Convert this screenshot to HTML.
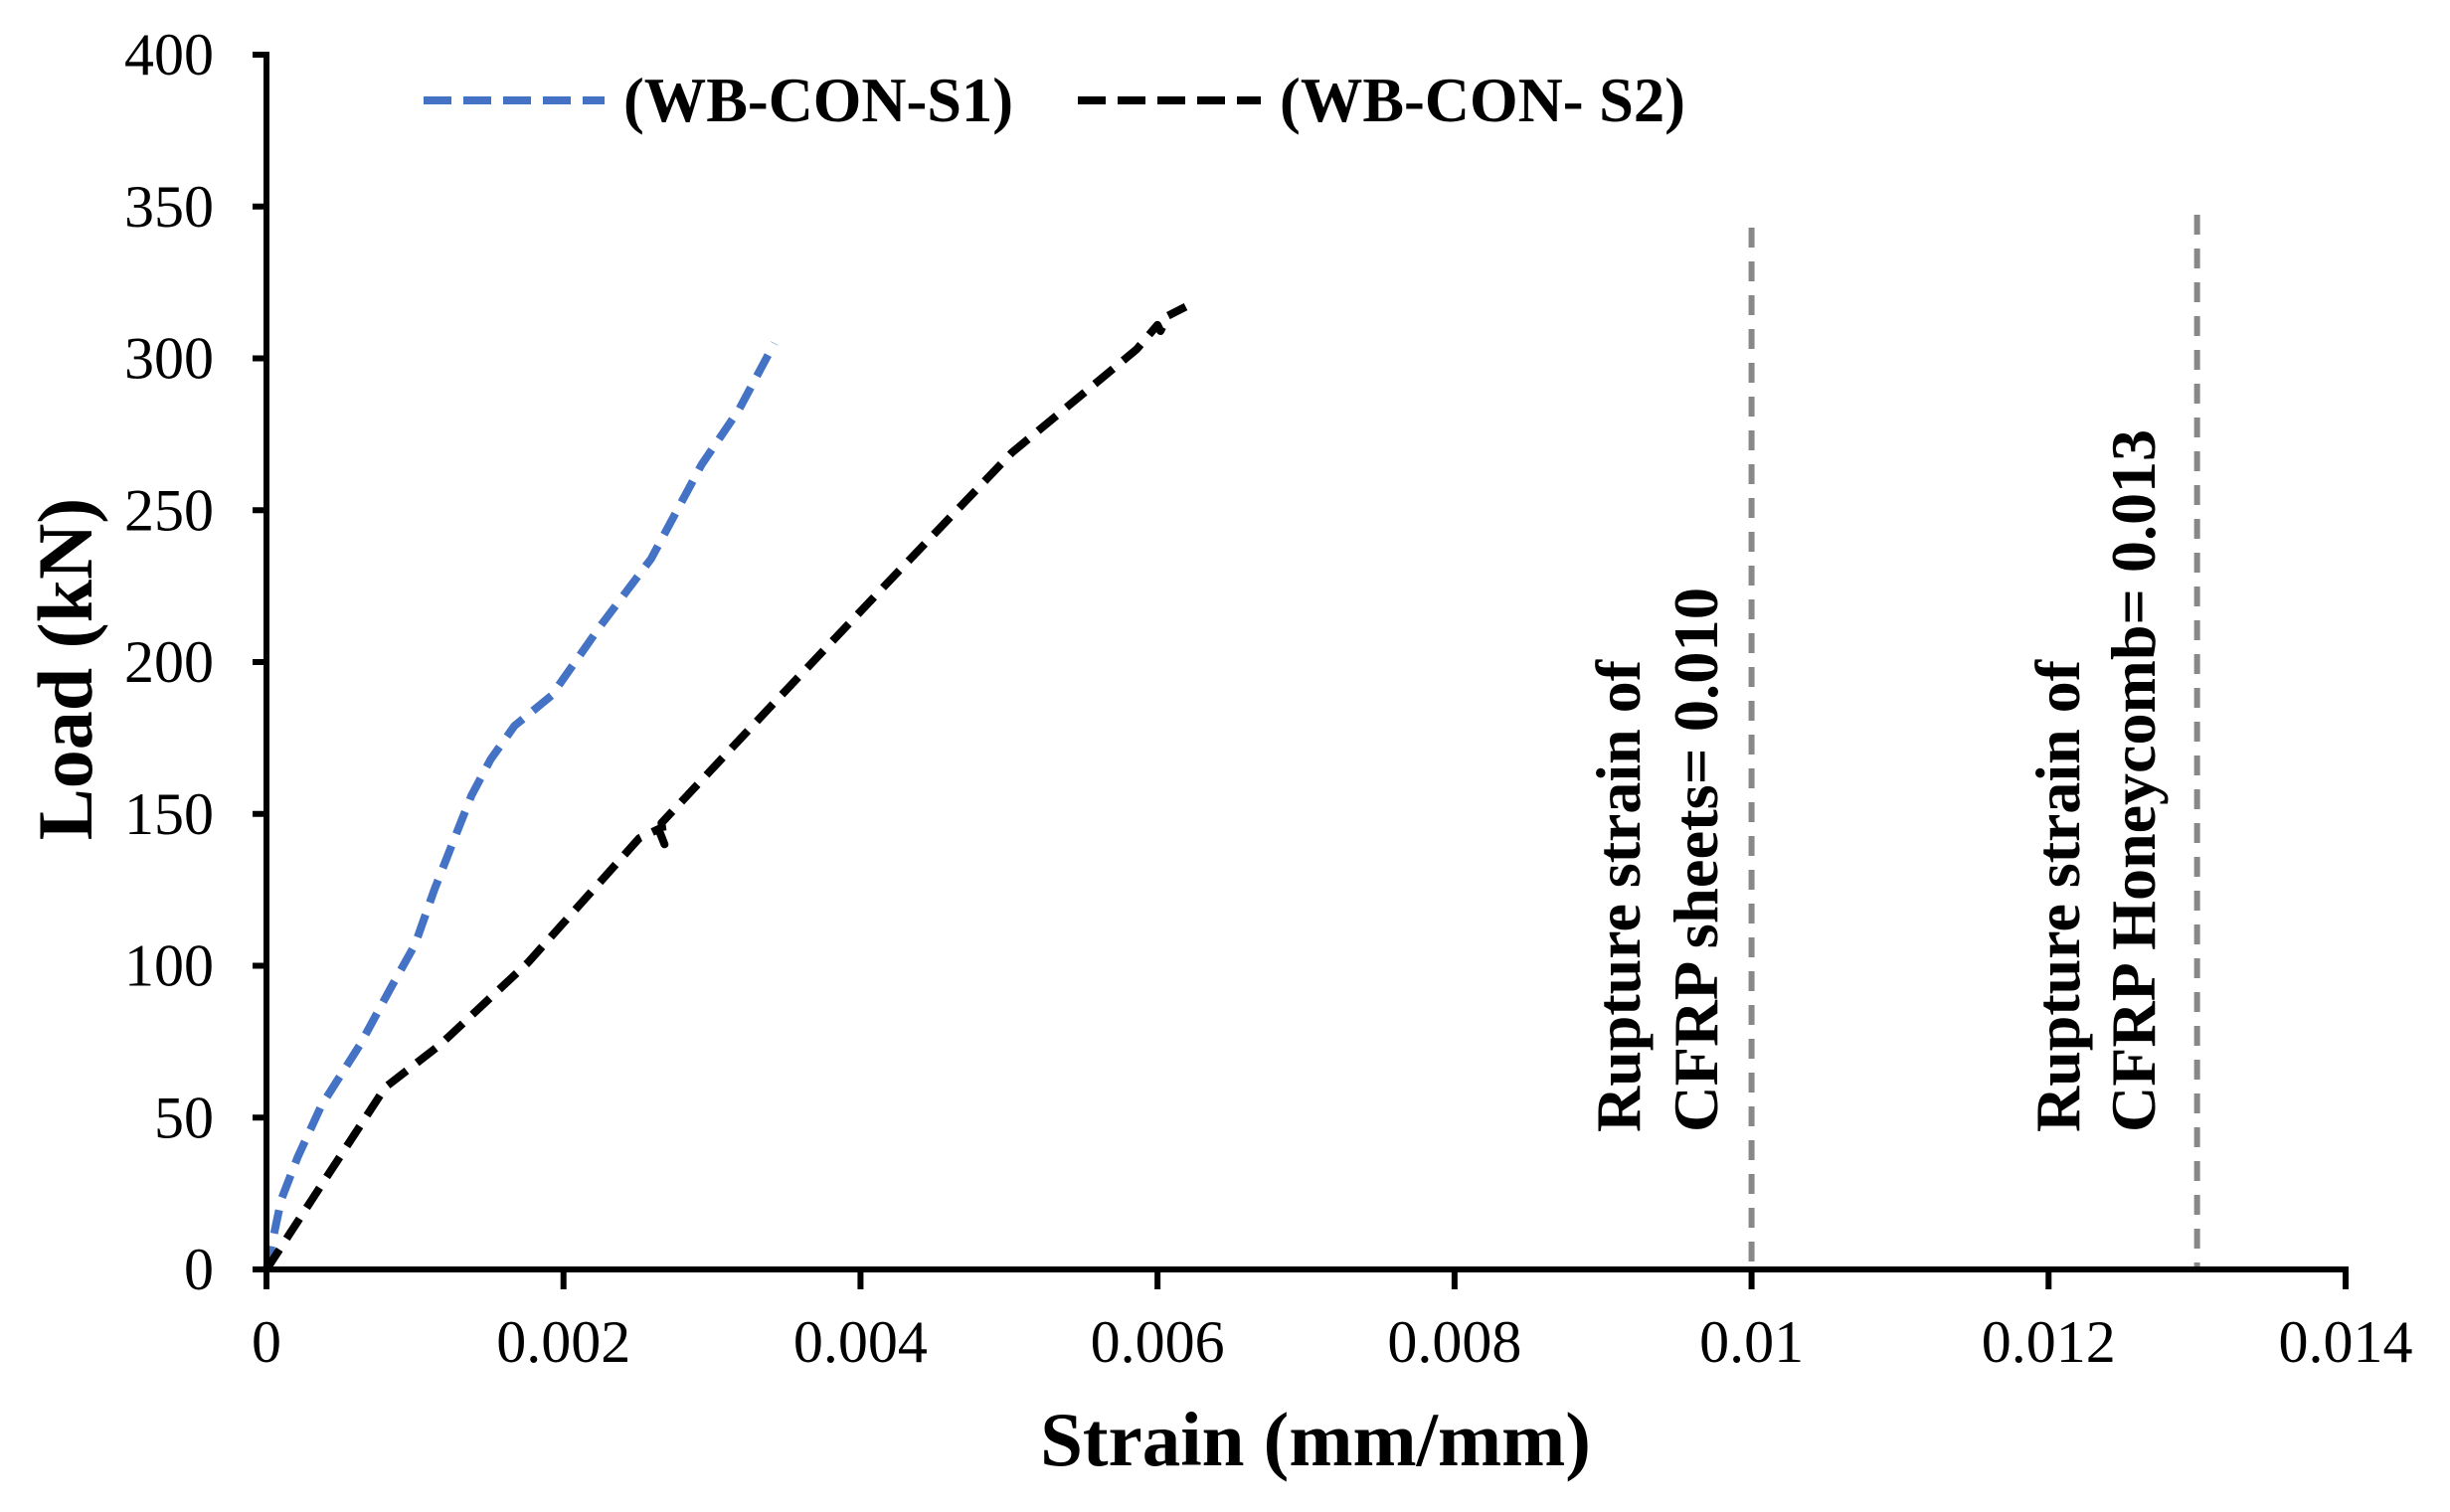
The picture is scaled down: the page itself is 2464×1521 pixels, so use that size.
<!DOCTYPE html>
<html><head><meta charset="utf-8"><style>
html,body{margin:0;padding:0;background:#fff;}
svg{display:block;}
text{font-family:"Liberation Serif",serif;}
</style></head><body>
<svg id="chart" width="2464" height="1521" viewBox="0 0 2464 1521">
</svg>
<script>
const xTicks=[0,0.002,0.004,0.006,0.008,0.01,0.012,0.014];
const xTickLabels=["0","0.002","0.004","0.006","0.008","0.01","0.012","0.014"];
const yTicks=[0,50,100,150,200,250,300,350,400];
const s1Strain=[0,0.0001,0.00021,0.00037,0.00063,0.00084,0.001,0.00113,0.00125,0.00138,0.00151,0.00167,0.00192,0.00225,0.00259,0.00293,0.00318,0.00342];
const s1Load=[0,23,37,54,74,93,107,125,140,156,168,179,189,212,234,265,283,305];
const s2Strain=[0,0.0004,0.0008,0.00117,0.00176,0.00251,0.00264,0.00268,0.00266,0.00335,0.00418,0.00502,0.00586,0.00600,0.00602,0.00607,0.00619];
const s2Load=[0,30,60,74,101,142,145,140,147,183,226,269,303,311,309,314,317];
const ruptureStrains=[0.010,0.013];

const NS="http://www.w3.org/2000/svg";
const svg=document.getElementById('chart');
const X0=268,Y0=1277,XR=2359,YT=55;
const xs=v=>X0+(v/0.014)*(XR-X0);
const ys=v=>Y0-(v/400)*(Y0-YT);
function mk(tag,attrs,parent){const e=document.createElementNS(NS,tag);for(const k in attrs)e.setAttribute(k,attrs[k]);(parent||svg).appendChild(e);return e;}

ruptureStrains.forEach((r,i)=>{
  const l=mk('line',{x1:xs(r),x2:xs(r),y1:i===0?229:216,y2:Y0,stroke:'#888',"stroke-width":6,"stroke-dasharray":"20 14"});
  
  
});

function series(xa,ya,color,name){
  const d=xa.map((v,i)=>(i?'L':'M')+xs(v).toFixed(1)+' '+ys(ya[i]).toFixed(1)).join(' ');
  const p=mk('path',{d:d,fill:'none',stroke:color,"stroke-width":8,"stroke-dasharray":"24 13","stroke-linejoin":"round"});
  
  
}
series(s1Strain,s1Load,'#4472c4','series-wb-con-s1');
series(s2Strain,s2Load,'#000','series-wb-con-s2');

const ya=mk('line',{x1:X0,x2:X0,y1:YT-3,y2:Y0+3,stroke:'#000',"stroke-width":6});


const xa=mk('line',{x1:X0-3,x2:XR+3,y1:Y0,y2:Y0,stroke:'#000',"stroke-width":6});



yTicks.forEach(v=>{
  const t=mk('line',{x1:X0-14,x2:X0,y1:ys(v),y2:ys(v),stroke:'#000',"stroke-width":6});
  
  
  const tx=mk('text',{x:215,y:ys(v)+20,"text-anchor":"end","font-size":60,fill:'#000'});
  tx.textContent=String(v);
  
  
});
xTicks.forEach((v,i)=>{
  const t=mk('line',{x1:xs(v),x2:xs(v),y1:Y0,y2:Y0+20,stroke:'#000',"stroke-width":6});
  
  
  const tx=mk('text',{x:xs(v),y:1370,"text-anchor":"middle","font-size":60,fill:'#000'});
  tx.textContent=xTickLabels[i];
  
  
});
</script>
<script>
(function(){
const NS="http://www.w3.org/2000/svg";const svg=document.getElementById('chart');
function mk(tag,attrs){const e=document.createElementNS(NS,tag);for(const k in attrs)e.setAttribute(k,attrs[k]);svg.appendChild(e);return e;}
function txt(s,attrs,name){const e=mk('text',attrs);e.textContent=s;

return e;}
const l1=mk('line',{x1:426,x2:608,y1:101,y2:101,stroke:'#4472c4',"stroke-width":8,"stroke-dasharray":"28 12"});


txt('(WB-CON-S1)',{x:627,y:122,"font-size":64,"font-weight":"bold",textLength:392,lengthAdjust:"spacingAndGlyphs"},'legend-label-s1');
const l2=mk('line',{x1:1084,x2:1268,y1:101,y2:101,stroke:'#000',"stroke-width":8,"stroke-dasharray":"28 12"});


txt('(WB-CON- S2)',{x:1287,y:122,"font-size":64,"font-weight":"bold",textLength:408,lengthAdjust:"spacingAndGlyphs"},'legend-label-s2');
txt('Strain (mm/mm)',{x:1323,y:1474,"text-anchor":"middle","font-size":77,"font-weight":"bold"},'x-axis-title');
txt('Load (kN)',{x:0,y:0,"text-anchor":"middle","font-size":78,"font-weight":"bold",transform:"translate(92,673) rotate(-90)"},'y-axis-title');
txt('Rupture strain of',{x:0,y:0,"font-size":64,"font-weight":"bold",textLength:475,lengthAdjust:"spacingAndGlyphs",transform:"translate(1649,1139) rotate(-90)"},'annotation-sheets-line1');
txt('CFRP sheets= 0.010',{x:0,y:0,"font-size":64,"font-weight":"bold",textLength:548,lengthAdjust:"spacingAndGlyphs",transform:"translate(1727,1139) rotate(-90)"},'annotation-sheets-line2');
txt('Rupture strain of',{x:0,y:0,"font-size":64,"font-weight":"bold",textLength:475,lengthAdjust:"spacingAndGlyphs",transform:"translate(2091,1139) rotate(-90)"},'annotation-honeycomb-line1');
txt('CFRP Honeycomb= 0.013',{x:0,y:0,"font-size":64,"font-weight":"bold",textLength:707,lengthAdjust:"spacingAndGlyphs",transform:"translate(2167,1139) rotate(-90)"},'annotation-honeycomb-line2');
})();
</script>
</body></html>
